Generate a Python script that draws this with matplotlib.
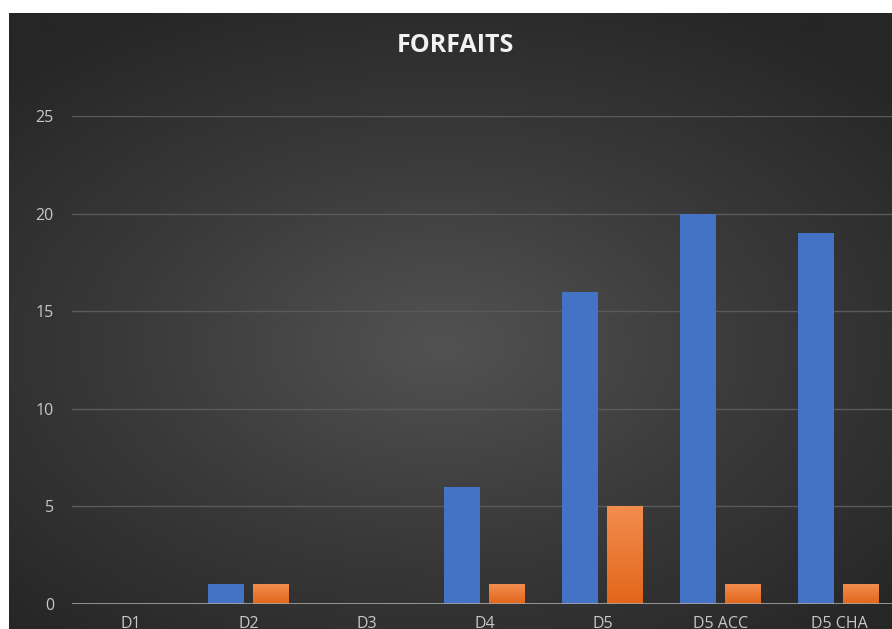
import matplotlib.pyplot as plt
import numpy as np
from matplotlib.colors import LinearSegmentedColormap

categories = ["D1", "D2", "D3", "D4", "D5", "D5 ACC", "D5 CHA"]
serie_bleue = [0, 1, 0, 6, 16, 20, 19]
serie_orange = [0, 1, 0, 1, 5, 1, 1]
yticks = [0, 5, 10, 15, 20, 25]

plt.rcParams['font.family'] = ['Open Sans', 'DejaVu Sans']

fig = plt.figure(figsize=(8.92, 6.29), dpi=100)
fig.patch.set_facecolor('white')

# dark radial gradient background (starts a few px in from top/left)
bg = fig.add_axes([9 / 892, 0, 1 - 9 / 892, 1 - 13 / 629])
bg.set_axis_off()
yy, xx = np.mgrid[1:-1:300j, -1:1:400j]
r = np.sqrt(((xx + 0.02) * 0.85) ** 2 + ((yy + 0.08) * 0.95) ** 2)
r = np.clip(r / 1.2, 0, 1)
bgmap = LinearSegmentedColormap.from_list('bg', ['#525252', '#3a3a3a', '#262626'])
bg.imshow(r, cmap=bgmap, aspect='auto', extent=[0, 1, 0, 1], interpolation='bilinear')
bg.set_xlim(0, 1)
bg.set_ylim(0, 1)

fig.text(455 / 892, 1 - 46 / 629, "FORFAITS", color='#f2f2f2',
         fontsize=18, fontweight='bold', ha='center', va='center')

ax = fig.add_axes([72 / 892, 25 / 629, 826 / 892, 488 / 629])
ax.patch.set_alpha(0)
x = np.arange(len(categories))
w = 0.305
ax.bar(x - 0.195, serie_bleue, width=w, color='#4472c4', zorder=3)
bars_o = ax.bar(x + 0.186, serie_orange, width=w, color='#ed7d31', zorder=3)

# orange gradient fill
grad = np.linspace(0, 1, 100).reshape(-1, 1)
omap = LinearSegmentedColormap.from_list('or', ['#e2661a', '#f28d4f'])
for b in bars_o:
    if b.get_height() <= 0:
        continue
    x0, y0 = b.get_x(), b.get_y()
    im = ax.imshow(grad, cmap=omap, aspect='auto', origin='lower',
                   extent=[x0, x0 + b.get_width(), y0, y0 + b.get_height()], zorder=4)
    im.set_clip_path(b)

ax.set_xlim(-0.5, len(categories) - 0.5)
ax.set_ylim(0, 25)
ax.set_yticks(yticks)
ax.set_xticks(x)
ax.set_xticklabels(categories)
ax.grid(axis='y', color='#5a5a5a', linewidth=1, zorder=0)
ax.axhline(0, color='#a6a6a6', linewidth=1.2, zorder=5)
for s in ax.spines.values():
    s.set_visible(False)
ax.tick_params(axis='both', length=0, colors='#c8c8c8', labelsize=11.5)
ax.tick_params(axis='x', pad=9)
ax.tick_params(axis='y', pad=13)

fig.savefig('out.png', dpi=100)
